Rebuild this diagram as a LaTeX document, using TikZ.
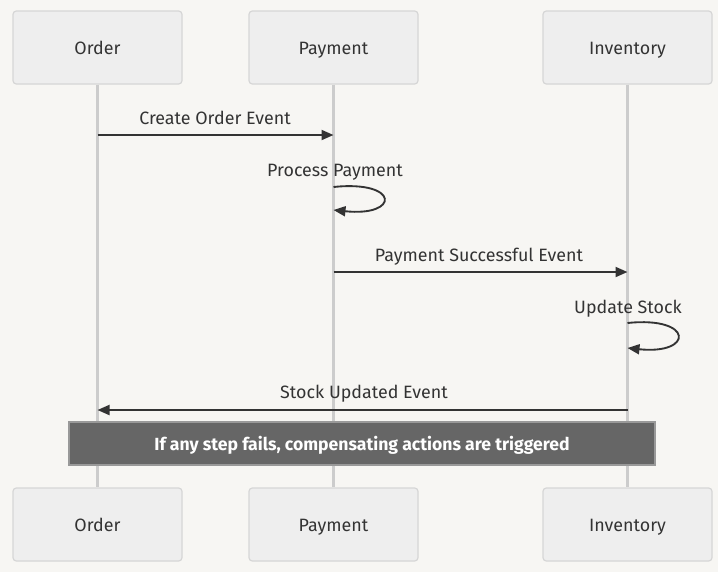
\documentclass[tikz,border=0pt]{standalone}
\usepackage{fontspec}
\setmainfont{Fira Sans}
\usetikzlibrary{arrows.meta}
\definecolor{bg}{HTML}{F7F6F3}
\definecolor{boxfill}{HTML}{EEEEEE}
\definecolor{boxline}{HTML}{D6D6D6}
\definecolor{life}{HTML}{CCCCCC}
\definecolor{ink}{HTML}{333333}
\definecolor{notefill}{HTML}{666666}
\definecolor{noteline}{HTML}{999999}
\begin{document}
\begin{tikzpicture}[x=0.75pt,y=-0.75pt,
  txt/.style={font=\fontsize{13.4}{16}\selectfont,text=ink,text height=13pt,text depth=2.8pt},
  actor/.style={txt,draw=boxline,fill=boxfill,rounded corners=2.5pt,line width=0.9pt,minimum width=126.75pt,minimum height=54.75pt,inner sep=0pt},
  lifeline/.style={draw=life,line width=1.6pt},
  msg/.style={draw=ink,line width=1.4pt,-{Triangle[length=9pt,width=7.5pt]}},
  lbl/.style={txt,inner sep=0pt},
  notebox/.style={draw=noteline,fill=notefill,line width=0.8pt,minimum width=439.5pt,minimum height=32.25pt,inner sep=0pt,text=white,font=\fontsize{13.2}{16}\selectfont\bfseries,text height=13pt,text depth=2.8pt}]
\fill[bg] (0,0) rectangle (718,572);
\useasboundingbox (0,0) rectangle (718,572);
% actors
\node[actor] (o1) at (97.5,47.5) {Order};
\node[actor] (p1) at (333.5,47.5) {Payment};
\node[actor] (i1) at (627.5,47.5) {Inventory};
\node[actor] (o2) at (97.5,524.5) {Order};
\node[actor] (p2) at (333.5,524.5) {Payment};
\node[actor] (i2) at (627.5,524.5) {Inventory};
% lifelines
\draw[lifeline] (o1.south) -- (o2.north);
\draw[lifeline] (p1.south) -- (p2.north);
\draw[lifeline] (i1.south) -- (i2.north);
% message points
\coordinate (m1s) at (97.5,135);
\coordinate (m1e) at (333.5,135);
\coordinate (l1s) at (333.5,187);
\coordinate (l1e) at (333.5,210);
\coordinate (m2s) at (333.5,272);
\coordinate (m2e) at (627.5,272);
\coordinate (l2s) at (627.5,323);
\coordinate (l2e) at (627.5,348);
\coordinate (m3s) at (627.5,410);
\coordinate (m3e) at (97.5,410);
% messages
\draw[msg] (m1s) -- (m1e);
\node[lbl] (t1) at (215,118) {Create Order Event};
\draw[msg] (l1s) .. controls (400,180) and (400,217) .. (l1e);
\node[lbl] (t2) at (335,170) {Process Payment};
\draw[msg] (m2s) -- (m2e);
\node[lbl] (t3) at (479,255) {Payment Successful Event};
\draw[msg] (l2s) .. controls (694,316) and (694,355) .. (l2e);
\node[lbl] (t4) at (628,307) {Update Stock};
\draw[msg] (m3s) -- (m3e);
\node[lbl] (t5) at (364,392) {Stock Updated Event};
% note
\node[notebox] (note) at (362,443.5) {If any step fails, compensating actions are triggered};
\end{tikzpicture}
\end{document}
